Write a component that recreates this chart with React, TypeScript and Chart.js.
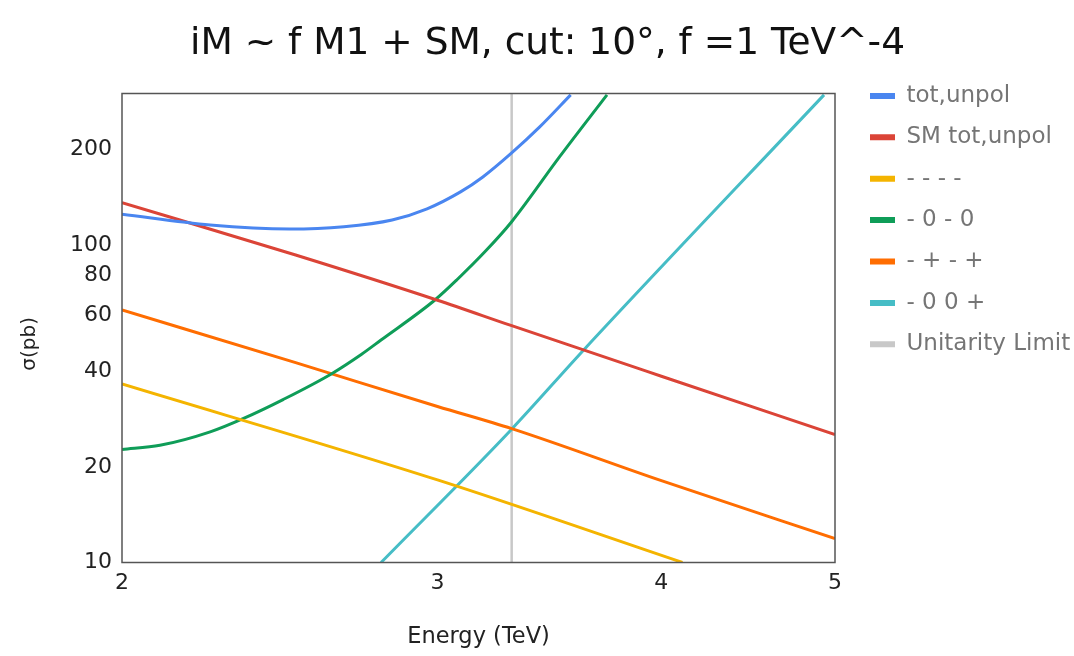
import React, { useEffect, useRef } from 'react';
import { Chart, registerables } from 'chart.js';

Chart.register(...registerables);

const FONT = "'DejaVu Sans', sans-serif";

const TITLE = 'iM ~ f M1 + SM, cut: 10°, f =1 TeV^-4';
const X_TITLE = 'Energy (TeV)';
const Y_TITLE = 'σ(pb)     ';

const xTicks = [2, 3, 4, 5];
const yTicks = [10, 20, 40, 60, 80, 100, 200];

const seriesLabels = ['tot,unpol', 'SM tot,unpol', '- - - -', '- 0 - 0', '- + - +', '- 0 0 +', 'Unitarity Limit'];
const seriesColors = ['#4a86f0', '#db4437', '#f4b400', '#0f9d58', '#ff6d01', '#46bdc6', '#c8c8c8'];

const blueE = [2.0, 2.24, 2.48, 2.66, 2.83, 2.96, 3.09, 3.18, 3.3, 3.42, 3.56];
const blueS = [125, 115.6, 112.3, 114.2, 119.9, 130, 147, 163.8, 195, 235, 297];

const redE = [2.0, 2.5, 3.0, 3.3, 4.0, 5.0];
const redS = [136, 93, 67, 55.7, 38.6, 25.3];

const yellowE = [2.0, 3.0, 4.11];
const yellowS = [36.5, 18.2, 10];

const greenE = [2.0, 2.1, 2.24, 2.34, 2.46, 2.62, 2.72, 2.79, 2.99, 3.075, 3.195, 3.3, 3.51, 3.73];
const greenS = [22.7, 23.4, 25.8, 28.5, 32.6, 39.4, 45.2, 50.2, 67.1, 77.6, 96.4, 118.4, 189.7, 297];

const orangeE = [2.0, 2.5, 3.0, 3.3, 4.0, 5.0];
const orangeS = [62.4, 42.6, 31.0, 26.4, 18.1, 11.9];

const cyanE = [2.79, 3.3, 3.62, 4.93];
const cyanS = [10, 26.3, 46.7, 297];

const unitE = [3.3, 3.3];
const unitS = [10, 300];

const pts = (xs: number[], ys: number[]) => xs.map((x, i) => ({ x, y: ys[i] }));

const framePlugin = {
  id: 'frame',
  afterDatasetsDraw(chart: any) {
    const { ctx, chartArea: a } = chart;
    ctx.save();
    ctx.strokeStyle = '#555';
    ctx.lineWidth = 1.5;
    ctx.strokeRect(a.left, a.top, a.right - a.left, a.bottom - a.top);
    ctx.restore();
  },
};

export default function App() {
  const ref = useRef<HTMLCanvasElement | null>(null);

  useEffect(() => {
    document.body.style.margin = '0';
    if (!ref.current) return;
    Chart.defaults.font.family = FONT;

    const allData = [
      pts(blueE, blueS),
      pts(redE, redS),
      pts(yellowE, yellowS),
      pts(greenE, greenS),
      pts(orangeE, orangeS),
      pts(cyanE, cyanS),
      pts(unitE, unitS),
    ];

    const datasets = allData.map((d, i) => ({
      label: seriesLabels[i],
      data: d,
      borderColor: seriesColors[i],
      backgroundColor: seriesColors[i],
      borderWidth: i === 6 ? 2.5 : 3,
      pointRadius: 0,
      pointHoverRadius: 0,
      fill: false,
      clip: 0,
      cubicInterpolationMode: i === 6 ? 'default' : 'monotone',
      tension: 0,
      xAxisID: 'x',
      yAxisID: 'y',
    }));

    const chart = new Chart(ref.current, {
      type: 'line',
      data: { datasets } as any,
      plugins: [framePlugin],
      options: {
        animation: false,
        responsive: false,
        devicePixelRatio: 1,
        layout: { padding: { left: 21, right: 0, top: 0, bottom: 0 } },
        plugins: {
          tooltip: { enabled: false },
          title: {
            display: true,
            text: TITLE,
            color: '#111',
            font: { size: 37.5, weight: 'normal', family: FONT },
            padding: { top: 22, bottom: 26.5 },
          },
          legend: {
            position: 'right',
            align: 'start',
            maxWidth: 222.4,
            title: { display: true, text: ' ', font: { size: 10 }, padding: { top: 54, bottom: 0 } },
            labels: {
              boxWidth: 25,
              boxHeight: 6,
              padding: 18.4,
              color: '#757575',
              font: { size: 23, family: FONT },
              generateLabels: (c: any) =>
                Chart.defaults.plugins.legend.labels.generateLabels(c).map((l: any) => ({ ...l, lineWidth: 0 })),
            },
          },
        },
        scales: {
          x: {
            type: 'logarithmic',
            position: 'bottom',
            min: 2,
            max: 5,
            afterBuildTicks: (s: any) => {
              s.ticks = xTicks.map((v) => ({ value: v }));
            },
            afterFit: (s: any) => {
              s.height = 93.5;
            },
            grid: { display: false, drawTicks: false },
            border: { display: false },
            ticks: {
              callback: (v: any) => String(v),
              color: '#222',
              font: { size: 22 },
              padding: 8,
              autoSkip: false,
              maxRotation: 0,
            },
            title: {
              display: true,
              text: X_TITLE,
              color: '#222',
              font: { size: 22.5 },
              padding: { top: 0, bottom: 5.5 },
            },
          },
          y: {
            type: 'logarithmic',
            position: 'left',
            min: 10,
            max: 300,
            afterBuildTicks: (s: any) => {
              s.ticks = yTicks.map((v) => ({ value: v }));
            },
            afterFit: (s: any) => {
              s.width = 101;
            },
            grid: { display: false, drawTicks: false },
            border: { display: false },
            ticks: {
              callback: (v: any) => String(v),
              color: '#222',
              font: { size: 22 },
              padding: 10,
              autoSkip: false,
            },
            title: {
              display: true,
              text: Y_TITLE,
              color: '#222',
              font: { size: 20, lineHeight: 1 },
              padding: { top: -1, bottom: 0 },
            },
          },
          r2: {
            type: 'linear',
            position: 'right',
            display: true,
            afterFit: (s: any) => {
              s.width = 16.6;
            },
            grid: { display: false, drawTicks: false },
            border: { display: false },
            ticks: { display: false },
          },
        },
      } as any,
    });
    return () => chart.destroy();
  }, []);

  return (
    <div style={{ width: 1074, height: 656 }}>
      <canvas ref={ref} width={1074} height={656} />
    </div>
  );
}
